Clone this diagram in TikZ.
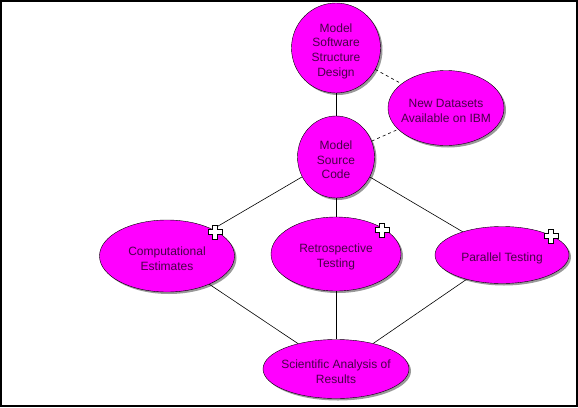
\documentclass[tikz,border=0pt]{standalone}
\usepackage{fontspec}
\setmainfont{Liberation Sans}
\usetikzlibrary{shapes.geometric, shadows}
\definecolor{goal}{RGB}{255,0,255}
\definecolor{goaltext}{RGB}{72,0,72}

\tikzset{
    goal/.style={ellipse, draw=black, fill=goal, inner sep=0pt,
        drop shadow={shadow xshift=2pt, shadow yshift=-2pt, fill=black!40, opacity=1}},
    goaltxt/.style={align=center, text=goaltext, inner sep=0pt, yshift=-3pt,
        font=\fontsize{12}{14.7}\selectfont},
    link/.style={black, line width=0.6pt},
}

\begin{document}
\begin{tikzpicture}[x=1pt, y=-1pt]
        \useasboundingbox (0,0) rectangle (578,407);
        \draw[line width=2pt] (1,1) rectangle (577,406);
        
        \node[goal, minimum width=89, minimum height=90] (design) at (336,48) {};
        \node[goal, minimum width=116, minimum height=75] (data) at (446,108) {};
        \node[goal, minimum width=77, minimum height=82] (source) at (336,157) {};
        \node[goal, minimum width=135, minimum height=72] (comp) at (167,256) {};
        \node[goal, minimum width=130, minimum height=74] (retro) at (336,254) {};
        \node[goal, minimum width=134, minimum height=57] (para) at (502,255) {};
        \node[goal, minimum width=146, minimum height=59] (sci) at (336,369) {};
        
        \node[goaltxt] (design-t) at (design) {Model\\Software\\Structure\\Design};
        \node[goaltxt] (data-t) at (data) {New Datasets\\Available on IBM};
        \node[goaltxt] (source-t) at (source) {Model\\Source\\Code};
        \node[goaltxt] (comp-t) at (comp) {Computational\\Estimates};
        \node[goaltxt] (retro-t) at (retro) {Retrospective\\Testing};
        \node[goaltxt] (para-t) at (para) {Parallel Testing};
        \node[goaltxt] (sci-t) at (sci) {Scientific Analysis of\\Results};
        
        \draw[link] (design) -- (source);
        \draw[link, dashed] (design) -- (data);
        \draw[link, dashed] (source) -- (data);
        \draw[link] (source) -- (comp);
        \draw[link] (source) -- (retro);
        \draw[link] (source) -- (para);
        \draw[link] (comp) -- (sci);
        \draw[link] (retro) -- (sci);
        \draw[link] (para) -- (sci);
        
        % plus marks
        \foreach \px/\py in {215/232, 382/230, 551/236}
            \draw[fill=white, line width=1pt, shift={(\px,\py)}] (-2.5,-7)--(2.5,-7)--(2.5,-2.5)--(7,-2.5)--(7,2.5)--(2.5,2.5)--(2.5,7)--(-2.5,7)--(-2.5,2.5)--(-7,2.5)--(-7,-2.5)--(-2.5,-2.5)--cycle;
\end{tikzpicture}
\end{document}
